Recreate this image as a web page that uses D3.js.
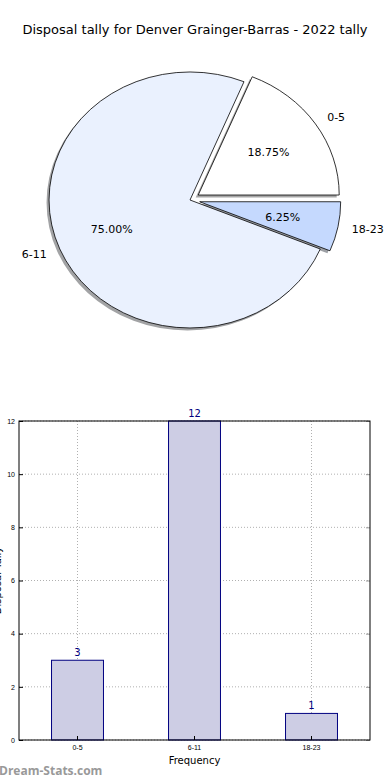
<!DOCTYPE html>
<html lang="en">
<head>
<meta charset="UTF-8">
<title>Disposal tally</title>
<script src="https://cdn.jsdelivr.net/npm/d3@7"></script>
<style>
    body { margin: 0; background: #fff; }
    svg { display: block; font-family: "DejaVu Sans", sans-serif; }
    .grid line { stroke: #b0b0b0; stroke-dasharray: 1,2; }
</style>
</head>
<body>
<svg width="390" height="780"></svg>
<script>
// data
var categories = ["0-5", "6-11", "18-23"];
var tally = [3, 12, 1];
var pieColors = ["#ffffff", "#eaf1fe", "#c5d9fe"];
var yTicks = [0, 2, 4, 6, 8, 10, 12];

var svg = d3.select("svg");
var total = d3.sum(tally);

// title
svg.append("text")
    .attr("x", 195).attr("y", 34)
    .attr("text-anchor", "middle")
    .style("font-size", "13px")
    .text("Disposal tally for Denver Grainger-Barras - 2022 tally");

// pie (matplotlib style: starts at 3 o'clock, counter-clockwise, squashed)
var cx = 190, cy = 200, rx = 141, ry = 128;
var explode = [0.07, 0, 0.07];
var pie = d3.pie().sort(null).startAngle(Math.PI / 2).endAngle(Math.PI / 2 - 2 * Math.PI);
var arcs = pie(tally);
var arc = d3.arc().innerRadius(0).outerRadius(1);

function offset(d, i, k) {
    var m = (d.startAngle + d.endAngle) / 2;
    return [cx + Math.sin(m) * rx * k, cy - Math.cos(m) * ry * k];
}

var pieG = svg.append("g");
// shadows first
pieG.selectAll(".shadow")
    .data(arcs)
    .enter()
    .append("path")
    .attr("class", "shadow")
    .attr("d", arc)
    .attr("transform", function (d, i) {
        var p = offset(d, i, explode[i]);
        return "translate(" + (p[0] - 2.5) + "," + (p[1] + 2.5) + ") scale(" + rx + "," + ry + ")";
    })
    .attr("fill", function (d, i) {
        var c = d3.rgb(pieColors[i]);
        return d3.rgb(c.r * 0.3, c.g * 0.3, c.b * 0.3);
    })
    .attr("opacity", 0.5);

pieG.selectAll(".wedge")
    .data(arcs)
    .enter()
    .append("path")
    .attr("class", "wedge")
    .attr("d", arc)
    .attr("transform", function (d, i) {
        var p = offset(d, i, explode[i]);
        return "translate(" + p[0] + "," + p[1] + ") scale(" + rx + "," + ry + ")";
    })
    .attr("fill", function (d, i) { return pieColors[i]; })
    .attr("stroke", "#000")
    .attr("stroke-width", 0.8)
    .attr("vector-effect", "non-scaling-stroke");

arcs.forEach(function (d, i) {
    var c = offset(d, i, explode[i]);
    var m = (d.startAngle + d.endAngle) / 2;
    var lx = c[0] + Math.sin(m) * rx * 1.1, ly = c[1] - Math.cos(m) * ry * 1.1;
    pieG.append("text")
        .attr("x", lx).attr("y", ly)
        .attr("dy", "0.35em")
        .attr("text-anchor", Math.sin(m) > 0 ? "start" : "end")
        .style("font-size", "11px")
        .text(categories[i]);
    var px = c[0] + Math.sin(m) * rx * 0.6, py = c[1] - Math.cos(m) * ry * 0.6;
    pieG.append("text")
        .attr("x", px).attr("y", py)
        .attr("dy", "0.35em")
        .attr("text-anchor", "middle")
        .style("font-size", "11px")
        .text(d3.format(".2f")(d.data / total * 100) + "%");
});

// bar chart
var plotL = 19, plotR = 370, plotT = 421, plotB = 740;
var x = d3.scaleBand().domain(categories).range([plotL, plotR]).paddingInner(0.556).paddingOuter(0.278);
var y = d3.scaleLinear().domain([0, 12]).range([plotB, plotT]);

var grid = svg.append("g").attr("class", "grid");
grid.selectAll(".gy").data(yTicks).enter().append("line")
    .attr("x1", plotL).attr("x2", plotR)
    .attr("y1", function (d) { return y(d); }).attr("y2", function (d) { return y(d); });
grid.selectAll(".gx").data(categories).enter().append("line")
    .attr("x1", function (d) { return x(d) + x.bandwidth() / 2; })
    .attr("x2", function (d) { return x(d) + x.bandwidth() / 2; })
    .attr("y1", plotT).attr("y2", plotB);

svg.selectAll(".bar")
    .data(tally)
    .enter()
    .append("rect")
    .attr("x", function (d, i) { return x(categories[i]); })
    .attr("y", function (d) { return y(d); })
    .attr("width", x.bandwidth())
    .attr("height", function (d) { return plotB - y(d); })
    .attr("fill", "#cdcde4")
    .attr("stroke", "#000080")
    .attr("stroke-width", 1);

svg.selectAll(".val")
    .data(tally)
    .enter()
    .append("text")
    .attr("x", function (d, i) { return x(categories[i]) + x.bandwidth() / 2; })
    .attr("y", function (d) { return y(d) - 4; })
    .attr("text-anchor", "middle")
    .attr("fill", "#000080")
    .style("font-size", "10px")
    .text(function (d) { return d; });

// axes with inward ticks
var axL = svg.append("g").attr("transform", "translate(" + plotL + ",0)")
    .call(d3.axisLeft(y).tickValues(yTicks).tickSize(-4).tickPadding(4));
var axR = svg.append("g").attr("transform", "translate(" + plotR + ",0)")
    .call(d3.axisRight(y).tickValues(yTicks).tickSize(-4).tickFormat(""));
var axB = svg.append("g").attr("transform", "translate(0," + plotB + ")")
    .call(d3.axisBottom(x).tickSize(-4).tickPadding(5));
[axL, axR, axB].forEach(function (g) {
    g.select(".domain").remove();
    g.selectAll("text").style("font-size", "7px").attr("fill", "#000");
    g.selectAll(".tick line").attr("stroke", "#000");
});
axR.selectAll(".tick line").attr("stroke", "#999");

svg.append("rect")
    .attr("x", plotL).attr("y", plotT)
    .attr("width", plotR - plotL).attr("height", plotB - plotT)
    .attr("fill", "none").attr("stroke", "#000").attr("stroke-width", 1);

svg.append("text")
    .attr("x", (plotL + plotR) / 2).attr("y", 764)
    .attr("text-anchor", "middle")
    .style("font-size", "10px")
    .text("Frequency");

svg.append("text")
    .attr("transform", "translate(1," + ((plotT + plotB) / 2) + ") rotate(-90)")
    .attr("text-anchor", "middle")
    .style("font-size", "10px")
    .text("Disposal Tally");

// watermark
svg.append("text")
    .attr("x", -1).attr("y", 775)
    .attr("fill", "#999")
    .style("font-size", "12px")
    .style("font-weight", "bold")
    .style("font-family", "'Open Sans', sans-serif")
    .text("Dream-Stats.com");
</script>
</body>
</html>
